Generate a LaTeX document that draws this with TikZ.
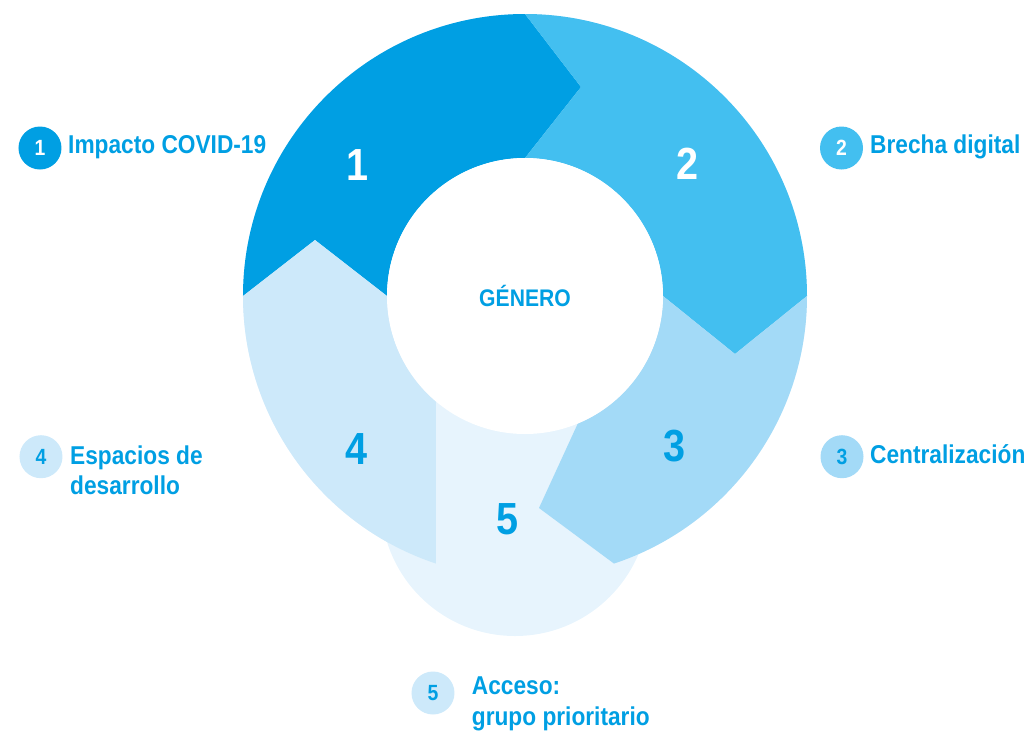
\documentclass[tikz,border=0pt]{standalone}
\usepackage{fontspec}
\setmainfont[FakeStretch=0.88]{Liberation Sans}
\definecolor{blueA}{HTML}{009FE3}
\definecolor{blueB}{HTML}{43BFF0}
\definecolor{blueC}{HTML}{A3DAF7}
\definecolor{blueD}{HTML}{CDE9FA}
\definecolor{blueE}{HTML}{E7F4FD}
\begin{document}
\begin{tikzpicture}[x=1pt, y=1pt,
  bignum/.style={inner sep=0pt, font=\fontsize{45}{45}\selectfont\bfseries},
  legnum/.style={circle, minimum size=43pt, inner sep=0pt, font=\fontsize{22}{22}\selectfont\bfseries},
  legtext/.style={anchor=base west, inner sep=0pt, text=blueA, align=left, font=\fontsize{25.8}{30.5}\selectfont\bfseries}]
\useasboundingbox (-525,-436) rectangle (508,296);
% segmento 5 de fondo
\fill[blueE] (0,0) circle (282);
\fill[blueE] (-10,-206) circle (134);
% segmentos 1 a 4
\fill[blueA] (-282,0) -- (-210,56) -- (-138,0) arc[start angle=180, end angle=90, radius=138] -- (56,209) -- (0,282) arc[start angle=90, end angle=180, radius=282] -- cycle;
\fill[blueB] (0,282) -- (56,209) -- (0,138) arc[start angle=90, end angle=0, radius=138] -- (210,-58) -- (282,0) arc[start angle=0, end angle=90, radius=282] -- cycle;
\fill[blueC] (282,0) -- (210,-58) -- (138,0) arc[start angle=0, end angle=-67.5, radius=138] -- (14,-212) -- (-71.6:282) arc[start angle=-71.6, end angle=0, radius=282] -- cycle;
\fill[blueD] (-108.4:282) -- (-89,-105.5) arc[start angle=229.8, end angle=180, radius=138] -- (-210,56) -- (-282,0) arc[start angle=180, end angle=251.6, radius=282] -- cycle;
% centro
\node[circle, fill=white, minimum size=276pt, inner sep=0pt, text=blueA, font=\fontsize{24}{24}\selectfont\bfseries] (genero) at (0,0) {GÉNERO};
% numeros grandes
\node[bignum, text=white] (s1) at (-167,131) {1};
\node[bignum, text=white] (s2) at (163,132) {2};
\node[bignum, text=blueA] (s3) at (150,-150) {3};
\node[bignum, text=blueA] (s4) at (-168,-153) {4};
\node[bignum, text=blueA] (s5) at (-17,-223.5) {5};
% leyenda
\node[legnum, fill=blueA, text=white] (n1) at (-485,148) {1};
\node[legtext] (t1) at (-457,143) {Impacto COVID-19};
\node[legnum, fill=blueB, text=white] (n2) at (316.5,148) {2};
\node[legtext] (t2) at (345,142.7) {Brecha digital};
\node[legnum, fill=blueC, text=blueA] (n3) at (317,-160.7) {3};
\node[legtext] (t3) at (345,-167) {Centralización};
\node[legnum, fill=blueD, text=blueA] (n4) at (-484,-160.7) {4};
\node[legtext] (t4) at (-455,-198.5) {Espacios de\\desarrollo};
\node[legnum, fill=blueD, text=blueA] (n5) at (-92,-397) {5};
\node[legtext] (t5) at (-53.3,-429) {Acceso:\\grupo prioritario};
\end{tikzpicture}
\end{document}
